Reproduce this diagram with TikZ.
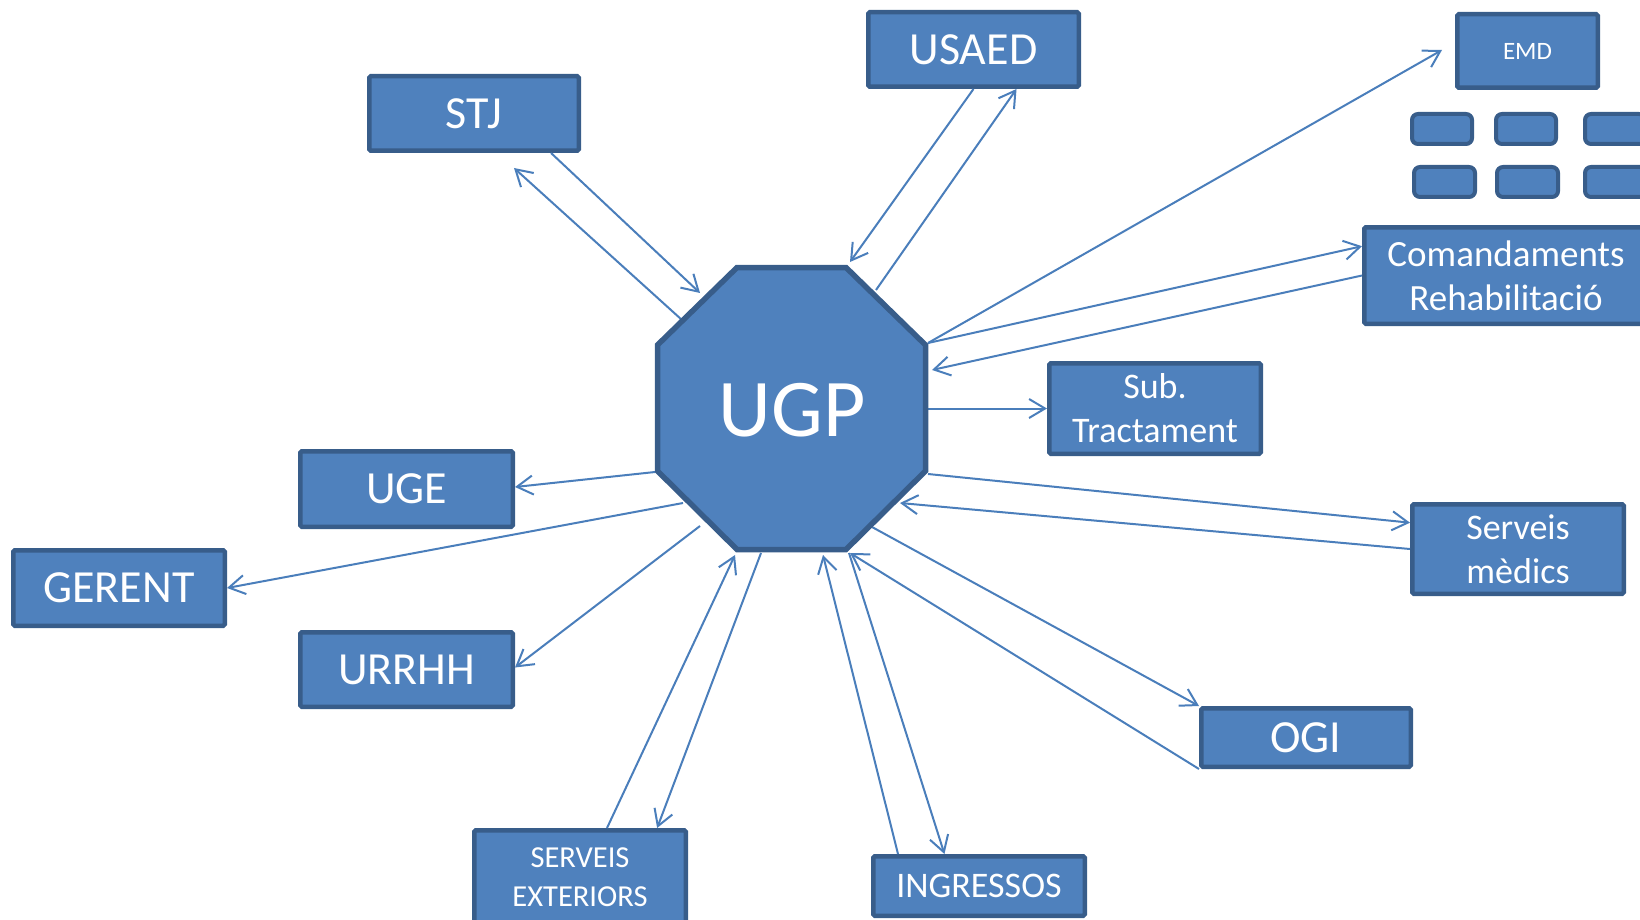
\documentclass[tikz,border=0pt]{standalone}
\usepackage{fontspec}
\setmainfont{Carlito}
\usetikzlibrary{arrows.meta,calc}
\definecolor{boxfill}{HTML}{4F81BD}
\definecolor{boxline}{HTML}{385D8A}
\definecolor{arrowc}{HTML}{4A7EBB}
\begin{document}
\begin{tikzpicture}[x=1pt,y=-1pt,
  box/.style={draw=boxline, fill=boxfill, line width=4.5pt, rounded corners=1.5pt,
    inner sep=0pt, text=white, align=center},
  smallbox/.style={draw=boxline, fill=boxfill, line width=4pt, rounded corners=6pt, inner sep=0pt},
  octo/.style={draw=boxline, fill=boxfill, line width=5.5pt},
  fbig/.style={font=\fontsize{46}{55}\selectfont},
  fmid/.style={font=\fontsize{36}{44}\selectfont},
  conn/.style={draw=arrowc, line width=2pt, -{Straight Barb[length=16pt,width=19pt]}}]
\useasboundingbox (0,0) rectangle (1640,920);
\clip (0,0) rectangle (1640,920);

% boxes
\node[box,fbig,minimum width=209.5pt,minimum height=74.5pt] (stj) at (474,113.5) {STJ};
\node[box,fbig,minimum width=210.5pt,minimum height=74.5pt] (usaed) at (973.5,49.5) {USAED};
\node[box,font=\fontsize{25}{30}\selectfont,minimum width=140.5pt,minimum height=73.5pt] (emd) at (1527.5,51) {EMD};
\node[smallbox,minimum width=60pt,minimum height=30pt] (s1) at (1442,129) {};
\node[smallbox,minimum width=60pt,minimum height=30pt] (s2) at (1526,129) {};
\node[smallbox,minimum width=60pt,minimum height=30pt] (s3) at (1615,129) {};
\node[smallbox,minimum width=61pt,minimum height=30pt] (s4) at (1444.5,182) {};
\node[smallbox,minimum width=61pt,minimum height=30pt] (s5) at (1527.5,182) {};
\node[smallbox,minimum width=61pt,minimum height=30pt] (s6) at (1615.5,182) {};
\node[box,font=\fontsize{37}{44}\selectfont,minimum width=283.5pt,minimum height=96.5pt] (com) at (1506,275.5) {Comandaments\\Rehabilitació};
\node[box,fmid,minimum width=211.5pt,minimum height=90.5pt] (sub) at (1155,408.5) {Sub.\\Tractament};
\node[box,fbig,minimum width=212.5pt,minimum height=75.5pt] (uge) at (406.5,489) {UGE};
\node[box,fbig,minimum width=211.5pt,minimum height=75.5pt] (gerent) at (119,588) {GERENT};
\node[box,fbig,minimum width=212.5pt,minimum height=74.5pt] (urrhh) at (406.5,669.5) {URRHH};
\node[box,fmid,minimum width=211.5pt,minimum height=89.5pt] (sm) at (1518,549) {Serveis\\mèdics};
\node[box,fbig,minimum width=209.5pt,minimum height=58.5pt] (ogi) at (1306,737.5) {OGI};
\node[box,font=\fontsize{30.5}{39}\selectfont,minimum width=211.5pt,minimum height=93.5pt] (se) at (580,877) {SERVEIS\\EXTERIORS};
\node[box,fmid,minimum width=211.5pt,minimum height=59.5pt] (ing) at (979,886) {INGRESSOS};

% UGP octagon vertices
\coordinate (o1) at (737,267.5);
\coordinate (o2) at (846,267.5);
\coordinate (o3) at (925.5,345);
\coordinate (o4) at (925.5,471);
\coordinate (o5) at (846,549.5);
\coordinate (o6) at (737,549.5);
\coordinate (o7) at (657.5,471);
\coordinate (o8) at (657.5,345);

% connector end points at UGP
\coordinate (u-stj-in) at (700,293);
\coordinate (u-stj-out) at (682,320);
\coordinate (u-usaed-in) at (850,262);
\coordinate (u-usaed-out) at (876,290);
\coordinate (u-ne) at (928,343);
\coordinate (u-com-in) at (932,370);
\coordinate (u-sub) at (928,408.5);
\coordinate (u-sm-out) at (928,474);
\coordinate (u-sm-in) at (900,503);
\coordinate (u-ogi-out) at (872,527);
\coordinate (u-ogi-in) at (850,553);
\coordinate (u-ing-in) at (823,555);
\coordinate (u-ing-out) at (849,553);
\coordinate (u-se-in) at (735,555);
\coordinate (u-se-out) at (761,553);
\coordinate (u-uge) at (655,472);
\coordinate (u-ger) at (683,503);
\coordinate (u-urr) at (700,526);

% connectors
\draw[conn] ($(stj.south west)!0.86!(stj.south east)$) -- (u-stj-in);
\draw[conn] (u-stj-out) -- ($(stj.south west)!0.687!(stj.south east)+(0,15)$);
\draw[conn] (usaed.south) -- (u-usaed-in);
\draw[conn] (u-usaed-out) -- ($(usaed.south west)!0.70!(usaed.south east)$);
\draw[conn] (u-ne) -- ($(emd.west)+(-13,-1)$);
\draw[conn] (u-ne) -- ($(com.north west)!0.21!(com.south west)$);
\draw[conn] (com.west) -- (u-com-in);
\draw[conn] (u-sub) -- (sub.west);
\draw[conn] (u-sm-out) -- ($(sm.north west)!0.22!(sm.south west)$);
\draw[conn] (sm.west) -- (u-sm-in);
\draw[conn] (u-ogi-out) -- (ogi.north west);
\draw[conn] (ogi.south west) -- (u-ogi-in);
\draw[conn] ($(ing.north west)!0.125!(ing.north east)$) -- (u-ing-in);
\draw[conn] (u-ing-out) -- ($(ing.north west)!0.34!(ing.north east)$);
\draw[conn] ($(se.north west)!0.625!(se.north east)$) -- (u-se-in);
\draw[conn] (u-se-out) -- ($(se.north west)!0.857!(se.north east)$);
\draw[conn] (u-uge) -- ($(uge.east)+(0,-2)$);
\draw[conn] (u-ger) -- (gerent.east);
\draw[conn] (u-urr) -- ($(urrhh.east)+(0,-2)$);

% UGP
\draw[octo] (o1) -- (o2) -- (o3) -- (o4) -- (o5) -- (o6) -- (o7) -- (o8) -- cycle;
\node[text=white,font=\fontsize{82}{90}\selectfont,inner sep=0pt] (ugp) at (792,410) {UGP};
\end{tikzpicture}
\end{document}
